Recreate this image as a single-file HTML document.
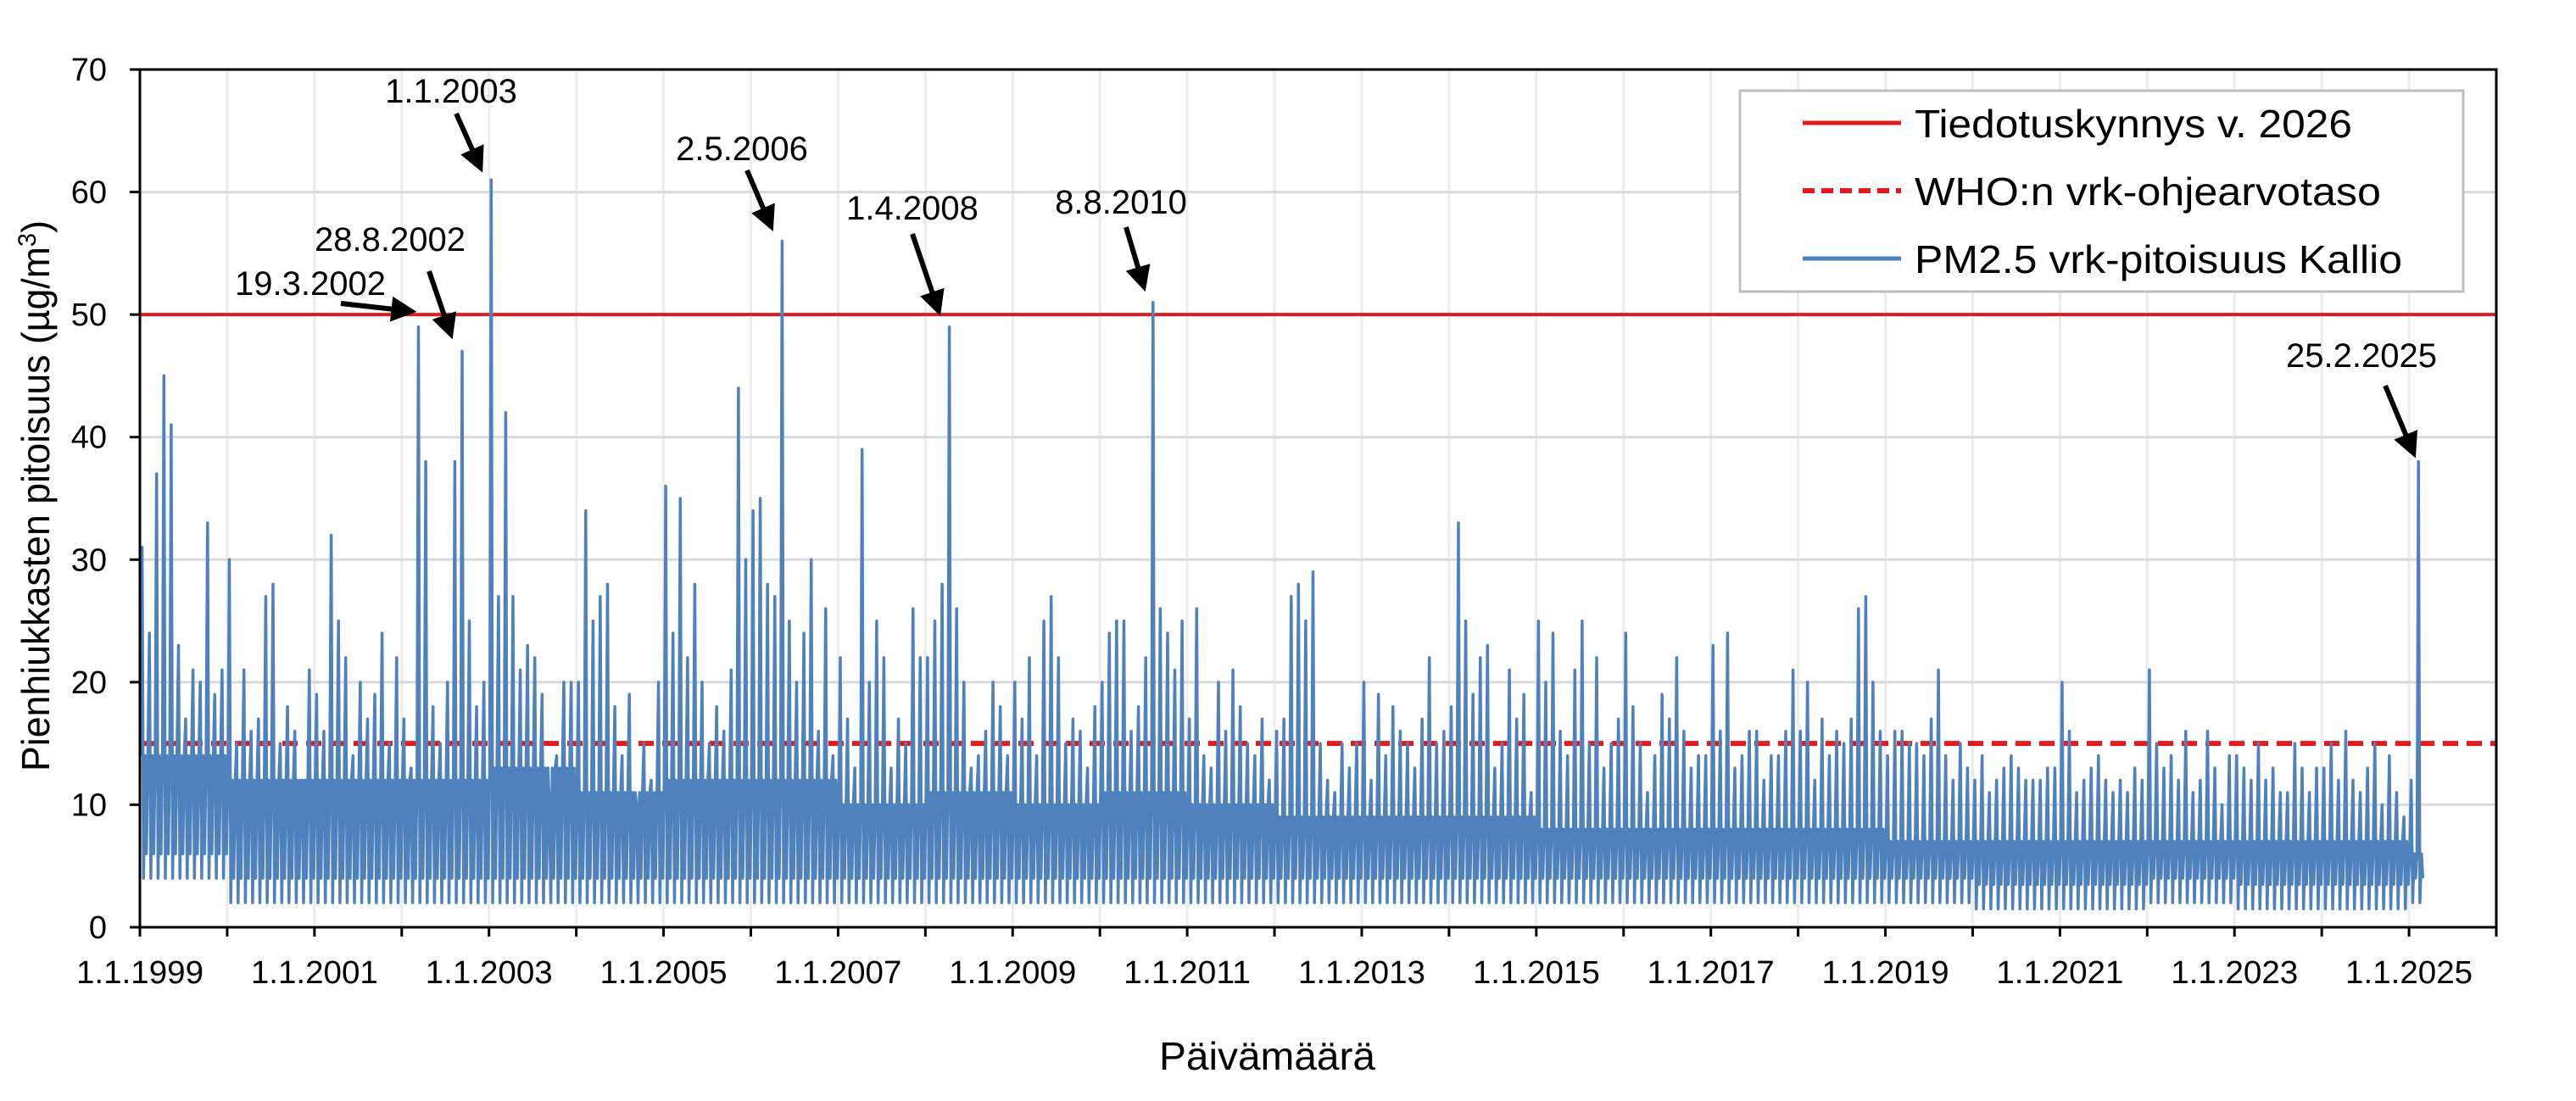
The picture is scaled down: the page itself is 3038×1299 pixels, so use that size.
<!DOCTYPE html>
<html><head><meta charset="utf-8"><style>
html,body{margin:0;padding:0;background:#fff;}
svg{display:block;font-family:"Liberation Sans",sans-serif;}
</style></head><body>
<svg id="chart" width="3038" height="1299" viewBox="0 0 3038 1299" xmlns="http://www.w3.org/2000/svg">
<rect x="0" y="0" width="3038" height="1299" fill="#fff"/>
<g id="grid"></g>
<g id="refs"></g>
<g id="series"></g>
<g id="axes"></g>
<g id="annots"></g>
<text transform="translate(58,585) rotate(-90)" text-anchor="middle" font-size="46" textLength="650" lengthAdjust="spacingAndGlyphs">Pienhiukkasten pitoisuus (µg/m<tspan font-size="30" dy="-16">3</tspan><tspan dy="16">)</tspan></text>
<text x="1367" y="1262" font-size="46" textLength="255" lengthAdjust="spacingAndGlyphs">Päivämäärä</text>
<g>
<rect x="2052" y="107" width="853" height="237" fill="#fff" stroke="#bfbfbf" stroke-width="3"/>
<line x1="2126" y1="145" x2="2242" y2="145" stroke="#e31a1c" stroke-width="5"/>
<text x="2258" y="162" font-size="46" textLength="516" lengthAdjust="spacingAndGlyphs">Tiedotuskynnys v. 2026</text>
<line x1="2126" y1="225" x2="2242" y2="225" stroke="#e31a1c" stroke-width="6" stroke-dasharray="14,8"/>
<text x="2258" y="242" font-size="46" textLength="550" lengthAdjust="spacingAndGlyphs">WHO:n vrk-ohjearvotaso</text>
<line x1="2126" y1="305" x2="2242" y2="305" stroke="#4f81bd" stroke-width="5"/>
<text x="2258" y="322" font-size="46" textLength="575" lengthAdjust="spacingAndGlyphs">PM2.5 vrk-pitoisuus Kallio</text>
</g>
</svg>
<script>
// ---- data ----
const startYear = 1999;
const years = [1999,2000,2001,2002,2003,2004,2005,2006,2007,2008,2009,2010,2011,2012,2013,2014,2015,2016,2017,2018,2019,2020,2021,2022,2023,2024,2025];
const monthMax = [
 [31,24,37,45,41,23,17,21,20,33,19,21],
 [30,15,21,16,17,27,28,15,18,16,12,21],
 [19,16,32,25,22,14,20,17,19,24,15,22],
 [17,13,49,38,18,15,20,38,47,25,18,20],
 [61,27,42,27,21,23,22,19,10,14,20,20],
 [20,34,25,27,28,18,14,19,10,15,12,20],
 [36,24,35,22,28,20,15,18,16,21,44,30],
 [34,35,28,27,56,25,20,24,30,16,26,14],
 [22,17,13,39,20,25,22,13,17,15,26,22],
 [22,25,28,49,26,20,13,14,16,20,18,14],
 [20,17,22,14,25,27,22,15,17,16,13,18],
 [20,24,25,25,16,18,22,51,26,24,21,25],
 [17,26,14,13,20,16,21,18,15,14,17,12],
 [16,17,27,28,25,29,15,12,11,15,13,15],
 [20,12,19,14,18,16,15,13,17,22,15,16],
 [18,33,25,19,22,23,13,15,21,17,19,11],
 [25,20,24,16,14,21,25,15,22,13,15,17],
 [24,18,15,11,14,19,17,22,16,13,14,14],
 [23,16,24,13,14,16,16,12,14,14,16,21],
 [16,20,12,17,14,16,15,17,26,27,20,16],
 [14,16,16,15,15,14,17,21,14,12,15,13],
 [12,14,11,12,13,14,13,12,12,12,13,13],
 [20,16,11,12,13,14,12,11,12,11,13,12],
 [21,15,13,14,12,16,11,12,16,13,10,14],
 [14,13,12,15,12,13,11,11,15,13,11,13],
 [13,15,12,16,12,11,13,15,10,14,11,9],
 [12,38]
];
const yearTypical = [14,12,12,12,13,11,12,12,10,11,10,11,10,9,9,9,8,8,8,8,7,7,7,7,7,7,6];
const yearLow = [4,2,2,2,2,2,2,2,2,2,2,2,2,2,2,2,2,2,2,2,2,1.5,1.5,2,1.5,1.5,2];
const yTicks = [0,10,20,30,40,50,60,70];
const xLabelYears = [1999,2001,2003,2005,2007,2009,2011,2013,2015,2017,2019,2021,2023,2025];
const thresholdValue = 50;
const whoValue = 15;
const annotLabels = ["19.3.2002","28.8.2002","1.1.2003","2.5.2006","1.4.2008","8.8.2010","25.2.2025"];
const annotDates = [2002.21,2002.66,2003.0,2006.33,2008.25,2010.6,2025.15];
const annotValues = [49.3,47.4,61,56.2,49.3,51.3,37.7];

// ---- scales ----
const X0=165, X1=2944, Y0=1094, Y1=82, XMIN=1999, XMAX=2026, YMAX=70;
const xs = t => X0 + (t-XMIN)/(XMAX-XMIN)*(X1-X0);
const ys = v => Y0 - v/YMAX*(Y0-Y1);
const NS="http://www.w3.org/2000/svg";
function mk(tag, attrs, parent){const e=document.createElementNS(NS,tag);for(const k in attrs)e.setAttribute(k,attrs[k]);parent.appendChild(e);return e;}

const grid=document.getElementById('grid');
for(let y=XMIN+1;y<XMAX;y++){
  const l=mk('line',{x1:xs(y),x2:xs(y),y1:Y1,y2:Y0,stroke:'#ececec','stroke-width':3},grid);
  
  
}
yTicks.forEach(v=>{ if(v===0||v===YMAX) return;
  const l=mk('line',{x1:X0,x2:X1,y1:ys(v),y2:ys(v),stroke:'#d9d9d9','stroke-width':3},grid);
  
  
});

// series
const pts=[];
years.forEach((yr,yi)=>{
  monthMax[yi].forEach((mx,m)=>{
    const t0=yr+m/12, d=1/12;
    pts.push([t0+d*0.1,yearTypical[yi]]);
    pts.push([t0+d*0.3,mx]);
    pts.push([t0+d*0.5,yearLow[yi]]);
    pts.push([t0+d*0.7,yearTypical[yi]]);
    pts.push([t0+d*0.9,yearLow[yi]+2]);
  });
});
const series=document.getElementById('series');
const p=mk('path',{d:'M'+pts.map(q=>xs(q[0]).toFixed(1)+','+ys(q[1]).toFixed(1)).join('L'),fill:'none',stroke:'#4f81bd','stroke-width':3.5,'stroke-linejoin':'round'},series);



// reference lines
const refs=document.getElementById('refs');
const r1=mk('line',{x1:X0,x2:X1,y1:ys(thresholdValue),y2:ys(thresholdValue),stroke:'#e31a1c','stroke-width':4},refs);


const r2=mk('line',{x1:X0,x2:X1,y1:ys(whoValue),y2:ys(whoValue),stroke:'#e31a1c','stroke-width':6,'stroke-dasharray':'18,10'},series);


series.insertBefore(r2,p);

// axes
const axes=document.getElementById('axes');
const fr=mk('rect',{x:X0,y:Y1,width:X1-X0,height:Y0-Y1,fill:'none',stroke:'#000','stroke-width':3},axes);


yTicks.forEach(v=>{
  const tk=mk('line',{x1:X0-12,x2:X0,y1:ys(v),y2:ys(v),stroke:'#000','stroke-width':3},axes);
  
  
  const tx=mk('text',{x:126,y:ys(v)+13,'text-anchor':'end','font-size':38},axes);
  
  
  tx.textContent=v;
});
for(let y=XMIN;y<=XMAX;y++){
  const tk=mk('line',{x1:xs(y),x2:xs(y),y1:Y0,y2:Y0+11,stroke:'#000','stroke-width':3},axes);
  
  
}
xLabelYears.forEach(y=>{
  const tx=mk('text',{x:xs(y),y:1160,'text-anchor':'middle','font-size':38,textLength:150,lengthAdjust:'spacingAndGlyphs'},axes);
  
  
  tx.textContent='1.1.'+y;
});

// annotations (label placement offsets)
const annots=document.getElementById('annots');
const defs=mk('defs',{},annots);
const mkr=mk('marker',{id:'ah',markerWidth:5,markerHeight:5,refX:4,refY:2.5,orient:'auto',markerUnits:'strokeWidth'},defs);
mk('path',{d:'M0,0 L5,2.5 L0,5 Z',fill:'#000'},mkr);
const textPos=[[366,348],[460,296],[532,121],[875,189],[1076,259],[1322,252],[2785,433]];
const arrowFrom=[[402,358],[506,320],[538,134],[881,201],[1076,276],[1328,268],[2813,455]];
annotLabels.forEach((lab,i)=>{
  const tx=mk('text',{x:textPos[i][0],y:textPos[i][1],'text-anchor':'middle','font-size':40},annots);
  
  
  tx.textContent=lab;
  const tipX=xs(annotDates[i])-10, tipY=ys(annotValues[i])-14;
  const ar=mk('line',{x1:arrowFrom[i][0],y1:arrowFrom[i][1],x2:tipX,y2:tipY,stroke:'#000','stroke-width':6,'marker-end':'url(#ah)'},annots);
  
  
});
</script>
</body></html>
